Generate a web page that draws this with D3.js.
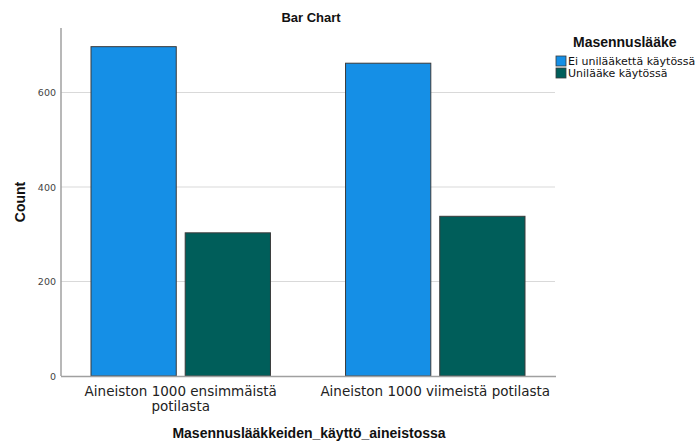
<!DOCTYPE html>
<html><head><meta charset="utf-8">
<script src="https://cdn.jsdelivr.net/npm/d3@7"></script>
<style>body{margin:0;background:#fff}svg{display:block;font-family:"Liberation Sans",Arial,sans-serif}</style>
</head><body><svg id="c" width="697" height="443"></svg>
<script>
const categories = [["Aineiston 1000 ensimmäistä","potilasta"],["Aineiston 1000 viimeistä potilasta"]];
const categoryKeys = ["first","last"];
const seriesNames = ["Ei unilääkettä käytössä","Unilääke käytössä"];
const seriesColors = ["#158fe6","#005e5a"];
const valuesNoSleep = [697, 662];
const valuesSleep = [303, 338];
const yTicks = [0,200,400,600];

const svg = d3.select("#c");
const y = d3.scaleLinear().domain([0,600]).range([376,92.5]);
const x0 = d3.scaleBand().domain(categoryKeys).range([91,525]).paddingInner(0.295).paddingOuter(0);
const x1 = d3.scaleBand().domain([0,1]).range([0,x0.bandwidth()]).paddingInner(0.095);

// gridlines
svg.append("g").selectAll("line").data(yTicks.filter(d=>d>0)).join("line")
  .attr("x1",61).attr("x2",555).attr("y1",d=>y(d)).attr("y2",d=>y(d))
  .attr("stroke","#d9d9d9").attr("stroke-width",1.2);

// bars
const data = categoryKeys.map((k,i)=>({k, vals:[valuesNoSleep[i], valuesSleep[i]]}));
const g = svg.append("g").selectAll("g").data(data).join("g").attr("transform",d=>`translate(${x0(d.k)},0)`);
g.selectAll("rect").data(d=>d.vals.map((v,j)=>({v,j}))).join("rect")
  .attr("x",d=>x1(d.j)).attr("width",x1.bandwidth())
  .attr("y",d=>y(d.v)).attr("height",d=>y(0)-y(d.v))
  .attr("fill",d=>seriesColors[d.j]).attr("stroke","#3a3a3a").attr("stroke-width",1);

// axes
const yAxis = d3.axisLeft(y).tickValues(yTicks).tickSize(0).tickPadding(5);
const ya = svg.append("g").attr("transform","translate(61,0)").call(yAxis);
ya.select(".domain").remove();
ya.selectAll("text").attr("font-family","DejaVu Sans").attr("font-size",9.5).attr("fill","#444");
svg.append("line").attr("x1",61).attr("x2",61).attr("y1",28).attr("y2",376).attr("stroke","#a0a0a0").attr("stroke-width",1.5);
svg.append("line").attr("x1",61).attr("x2",556).attr("y1",376.5).attr("y2",376.5).attr("stroke","#a0a0a0").attr("stroke-width",1.5);

// x tick labels
const xl = svg.append("g").selectAll("text").data(categoryKeys).join("text")
  .attr("x",d=>x0(d)+x0.bandwidth()/2).attr("y",396)
  .attr("text-anchor","middle").attr("font-family","DejaVu Sans").attr("font-size",13.5).attr("fill","#222");
xl.each(function(d,i){
  const t=d3.select(this);
  categories[i].forEach((line,li)=>t.append("tspan").attr("x",x0(d)+x0.bandwidth()/2).attr("dy",li?15:0).text(line));
});

// titles
svg.append("text").attr("x",311).attr("y",22).attr("text-anchor","middle").attr("font-weight","bold").attr("font-size",13).attr("fill","#111").text("Bar Chart");
svg.append("text").attr("x",309).attr("y",438).attr("text-anchor","middle").attr("font-weight","bold").attr("font-size",14).attr("fill","#111").text("Masennuslääkkeiden_käyttö_aineistossa");
svg.append("text").attr("transform","translate(25,202) rotate(-90)").attr("text-anchor","middle").attr("font-weight","bold").attr("font-size",14).attr("fill","#111").text("Count");

// legend
svg.append("text").attr("x",573).attr("y",47).attr("font-weight","bold").attr("font-size",14).attr("fill","#111").text("Masennuslääke");
const lg = svg.append("g").selectAll("g").data(seriesNames).join("g").attr("transform",(d,i)=>`translate(556,${56+i*12})`);
lg.append("rect").attr("width",10).attr("height",10).attr("fill",(d,i)=>seriesColors[i]).attr("stroke","#3a3a3a").attr("stroke-width",0.8);
lg.append("text").attr("x",12).attr("y",9).attr("font-family","DejaVu Sans").attr("font-size",11).attr("fill","#111").text(d=>d);
</script></body></html>
